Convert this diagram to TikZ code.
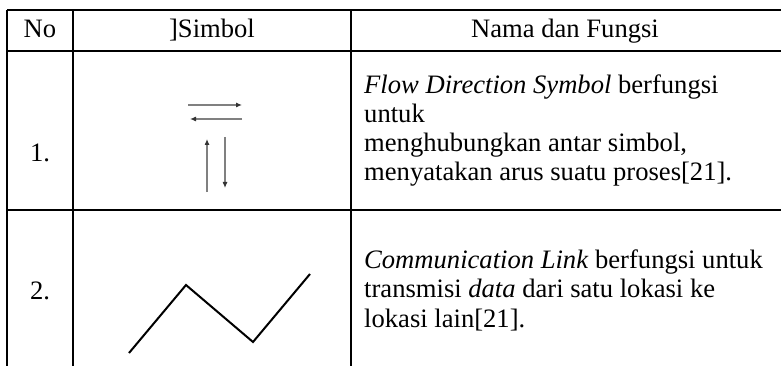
\documentclass[tikz,border=0pt]{standalone}
\usepackage{fontspec}
\setmainfont{Liberation Serif}
\usetikzlibrary{arrows.meta}
\begin{document}
\begin{tikzpicture}[x=1pt,y=-1pt]
	\tikzstyle{rule}=[line width=1.7pt,black]
	\tikzstyle{cell}=[inner sep=0pt,font=\fontsize{26.6}{29.3}\selectfont]
	\tikzstyle{desc}=[cell,anchor=base west,align=left]
	\tikzstyle{flow}=[draw,black!50,line width=1.1pt,-{Latex[length=6pt,width=5pt,black!80]}]
	\tikzstyle{link}=[draw,line width=2pt]
	\useasboundingbox (0,0) rectangle (781,366);
	\begin{scope}
		% table rules
		\draw[rule] (7,10) -- (781,10);
		\draw[rule] (7,51) -- (781,51);
		\draw[rule] (7,210) -- (781,210);
		\draw[rule] (7,10) -- (7,366);
		\draw[rule] (73,10) -- (73,366);
		\draw[rule] (351,10) -- (351,366);
		% header
		\node [cell,anchor=base] (hno) at (40,37.5) {No};
		\node [cell,anchor=base] (hsym) at (212,37.5) {]Simbol};
		\node [cell,anchor=base] (hname) at (565,37.5) {Nama dan Fungsi};
		% row 1
		\node [cell,anchor=base] (no1) at (40,162) {1.};
		\coordinate (f1a) at (188,105); \coordinate (f1b) at (242,105);
		\coordinate (f2a) at (242,119); \coordinate (f2b) at (190,119);
		\coordinate (f3a) at (207,192); \coordinate (f3b) at (207,139);
		\coordinate (f4a) at (225,137); \coordinate (f4b) at (225,188);
		\path[flow] (f1a) -- (f1b);
		\path[flow] (f2a) -- (f2b);
		\path[flow] (f3a) -- (f3b);
		\path[flow] (f4a) -- (f4b);
		\node [desc] (txt1) at (364,181) {\textit{Flow Direction Symbol} berfungsi\\untuk\\menghubungkan antar simbol,\\menyatakan arus suatu proses[21].};
		% row 2
		\node [cell,anchor=base] (no2) at (40,299) {2.};
		\coordinate (z1) at (129,353); \coordinate (z2) at (186,285);
		\coordinate (z3) at (253,342); \coordinate (z4) at (310,274);
		\path[link] (z1) -- (z2) -- (z3) -- (z4);
		\node [desc] (txt2) at (364,327) {\textit{Communication Link} berfungsi untuk\\transmisi \textit{data} dari satu lokasi ke\\lokasi lain[21].};
	\end{scope}
\end{tikzpicture}
\end{document}
